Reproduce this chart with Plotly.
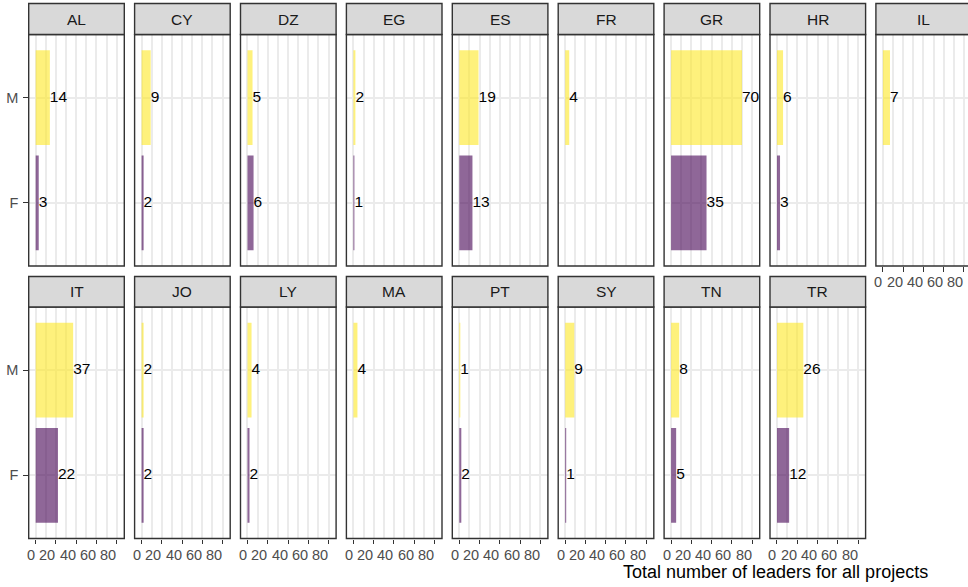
import plotly.graph_objects as go

# Leaders per country, split by sex (None = no female leaders recorded)
countries = ["AL", "CY", "DZ", "EG", "ES", "FR", "GR", "HR", "IL",
             "IT", "JO", "LY", "MA", "PT", "SY", "TN", "TR"]
male = [14, 9, 5, 2, 19, 4, 70, 6, 7, 37, 2, 4, 4, 1, 9, 8, 26]
female = [3, 2, 6, 1, 13, None, 35, 3, None, 22, 2, 2, None, 2, 1, 5, 12]
sex_levels = ["F", "M"]
x_ticks = [0, 20, 40, 60, 80]
x_title = "Total number of leaders for all projects"

W, H = 968, 587
NCOL = 9
PANEL_W = 95.6
PITCH = 105.9
LEFT0 = 28.7
# (strip top, panel top, panel bottom) in pixels for each facet row
ROWS = [(3.5, 34.5, 266.0), (276.5, 307.0, 538.5)]
X_RANGE = (-6.9, 87.5)
PX_PER_UNIT = PANEL_W / (X_RANGE[1] - X_RANGE[0])

FONT = "Liberation Sans, Arial, Helvetica, sans-serif"
FILL = {"M": "rgba(253,231,37,0.6)", "F": "rgba(68,1,84,0.6)"}
EDGE = "#333333"
GRID = "#EBEBEB"


def fx(px):
    return px / W


def fy(py):
    return 1 - py / H


fig = go.Figure()
layout = dict(shapes=[], annotations=[])

for i, country in enumerate(countries):
    row, col = divmod(i, NCOL)
    k = i + 1
    xa = "x" if k == 1 else f"x{k}"
    ya = "y" if k == 1 else f"y{k}"
    strip_top, top, bottom = ROWS[row]
    left = LEFT0 + col * PITCH
    right = left + PANEL_W
    x_hi = X_RANGE[1]
    dom_right = right
    if right > W:
        dom_right = W
        x_hi = X_RANGE[0] + (W - left) / PX_PER_UNIT

    # bars and value labels
    for sex, val in (("M", male[i]), ("F", female[i])):
        if val is None:
            continue
        fig.add_trace(go.Bar(
            x=[val], y=[sex], orientation="h", width=0.9,
            marker=dict(color=FILL[sex], line=dict(width=0)),
            xaxis=xa, yaxis=ya, showlegend=False, hoverinfo="skip"))
        fig.add_trace(go.Scatter(
            x=[val], y=[sex], mode="text", text=[str(val)],
            textposition="middle right",
            textfont=dict(family=FONT, size=15.5, color="black"),
            cliponaxis=True, xaxis=xa, yaxis=ya,
            showlegend=False, hoverinfo="skip"))

    show_x = (row == 1) or (i + NCOL >= len(countries))
    show_y = col == 0

    xkey = "xaxis" if k == 1 else f"xaxis{k}"
    ykey = "yaxis" if k == 1 else f"yaxis{k}"
    layout[xkey] = dict(
        domain=[fx(left), fx(dom_right)], anchor=ya,
        range=[X_RANGE[0], x_hi], fixedrange=True,
        tickmode="array", tickvals=x_ticks, showticklabels=False,
        ticks="outside" if show_x else "", ticklen=4.5, tickwidth=1.3,
        tickcolor=EDGE,
        showgrid=True, gridcolor=GRID, gridwidth=2,
        minor=dict(dtick=10, tick0=0, showgrid=True,
                   gridcolor=GRID, gridwidth=1.6, ticks=""),
        zeroline=False, showline=False)
    layout[ykey] = dict(
        domain=[fy(bottom), fy(top)], anchor=xa,
        type="category", categoryorder="array", categoryarray=sex_levels,
        range=[-0.6, 1.6], fixedrange=True,
        showticklabels=show_y,
        tickfont=dict(family=FONT, size=14.5, color="#4D4D4D"),
        ticks="outside" if show_y else "", ticklen=4.5, tickwidth=1.3,
        tickcolor=EDGE, ticklabelstandoff=2,
        showgrid=True, gridcolor=GRID, gridwidth=2,
        zeroline=False, showline=False)

    # panel border
    layout["shapes"].append(dict(
        type="rect", xref="paper", yref="paper",
        x0=fx(left), x1=fx(right), y0=fy(bottom), y1=fy(top),
        line=dict(color=EDGE, width=1.4), fillcolor="rgba(0,0,0,0)",
        layer="above"))
    # facet strip
    layout["shapes"].append(dict(
        type="rect", xref="paper", yref="paper",
        x0=fx(left), x1=fx(right), y0=fy(top), y1=fy(strip_top),
        line=dict(color=EDGE, width=1.4), fillcolor="#D9D9D9",
        layer="above"))
    layout["annotations"].append(dict(
        xref="paper", yref="paper",
        x=fx((left + right) / 2), y=fy((strip_top + top) / 2),
        text=country, showarrow=False, xanchor="center", yanchor="middle",
        font=dict(family=FONT, size=15.5, color="#1A1A1A")))

    # x tick labels, right-aligned on their ticks
    if show_x:
        for t in x_ticks:
            layout["annotations"].append(dict(
                xref=xa, yref="paper", x=t, y=fy(bottom + 6),
                text=str(t), showarrow=False,
                xanchor="right", yanchor="top", xshift=1.5,
                font=dict(family=FONT, size=14.5, color="#4D4D4D")))

layout["annotations"].append(dict(
    xref="paper", yref="paper", x=fx(775.7), y=fy(572),
    text=x_title, showarrow=False, xanchor="center", yanchor="middle",
    font=dict(family=FONT, size=18, color="black")))

fig.update_layout(
    width=W, height=H,
    margin=dict(l=0, r=0, t=0, b=0),
    paper_bgcolor="white", plot_bgcolor="white",
    barmode="overlay", showlegend=False,
    **layout)

fig.write_html("out.html")
